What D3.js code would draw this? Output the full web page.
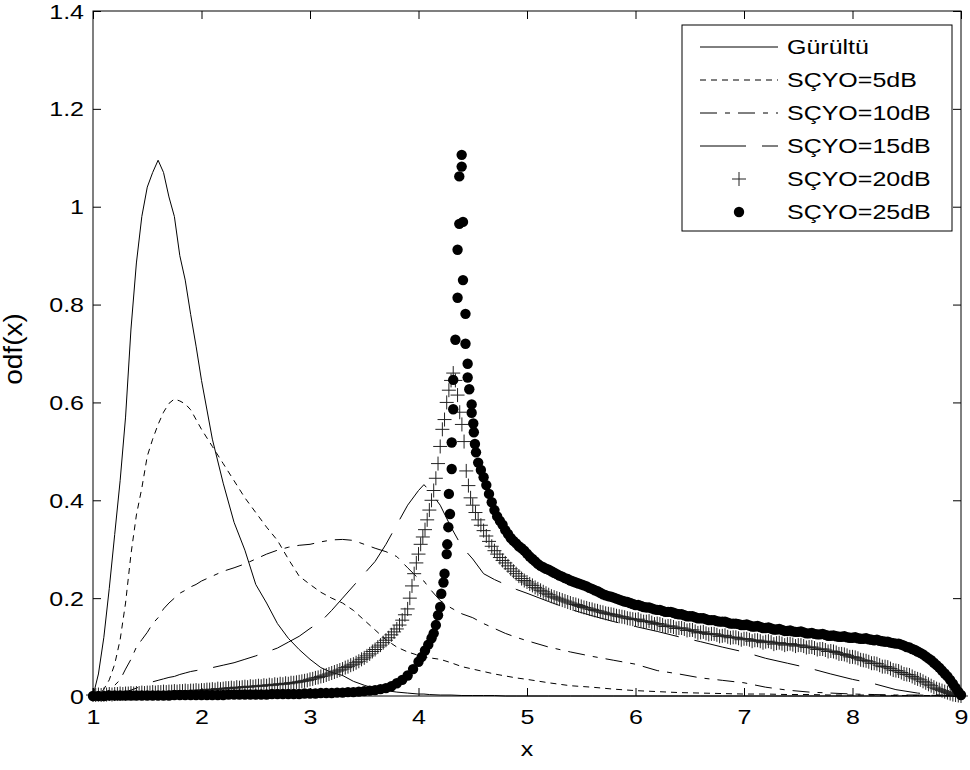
<!DOCTYPE html>
<html><head><meta charset="utf-8">
<script src="https://cdn.jsdelivr.net/npm/d3@7"></script>
<style>body{margin:0;background:#fff}text{font-family:"Liberation Sans",Arial,sans-serif;fill:#000}</style>
</head><body><svg id="c" width="970" height="770"></svg>
<script>
const xTicks=[1,2,3,4,5,6,7,8,9];
const yTicks=[0,0.2,0.4,0.6,0.8,1,1.2,1.4];
const yTickLabels=["0","0.2","0.4","0.6","0.8","1","1.2","1.4"];
const seriesNames=["Gürültü","SÇYO=5dB","SÇYO=10dB","SÇYO=15dB","SÇYO=20dB","SÇYO=25dB"];
const lineX=[1.0,1.05,1.1,1.15,1.2,1.25,1.3,1.35,1.4,1.45,1.5,1.55,1.6,1.65,1.7,1.75,1.8,1.85,1.9,1.95,2.0,
2.1,2.2,2.3,2.4,2.5,2.6,2.7,2.8,2.9,3.0,3.1,3.2,3.3,3.4,3.5,3.6,3.7,3.8,3.9,4.0,
4.05,4.1,4.2,4.3,4.4,4.5,4.6,4.7,4.8,4.9,5.0,
5.2,5.4,5.6,5.8,6.0,6.2,6.4,6.6,6.8,7.0,7.2,7.4,7.6,7.8,8.0,8.2,8.4,8.6,8.8,9.0];
const noiseY=[0,0.045,0.12,0.22,0.33,0.44,0.57,0.75,0.885,0.98,1.04,1.07,1.095,1.07,1.02,0.98,0.9,0.85,0.78,0.715,0.645,
0.525,0.435,0.355,0.298,0.228,0.19,0.148,0.118,0.095,0.075,0.058,0.048,0.042,0.03,0.022,0.015,0.011,0.008,0.006,0.004,
0.004,0.003,0.002,0.002,0.001,0.001,0.001,0.001,0,0,0,
0,0,0,0,0,0,0,0,0,0,0,0,0,0,0,0,0,0,0,0];
const snr5Y=[0,0.003,0.014,0.033,0.065,0.115,0.19,0.29,0.37,0.425,0.49,0.525,0.555,0.58,0.598,0.607,0.603,0.597,0.585,0.565,0.545,
0.51,0.475,0.44,0.405,0.375,0.345,0.318,0.28,0.245,0.228,0.212,0.2,0.19,0.175,0.155,0.135,0.115,0.1,0.09,0.083,
0.08,0.078,0.075,0.068,0.06,0.055,0.05,0.045,0.041,0.037,0.034,
0.027,0.021,0.018,0.014,0.011,0.009,0.007,0.006,0.005,0.004,0.004,0.003,0.003,0.002,0.002,0.002,0.001,0.001,0.001,0];
const snr10Y=[0,0.002,0.006,0.012,0.022,0.033,0.055,0.075,0.1,0.115,0.13,0.148,0.16,0.178,0.19,0.2,0.21,0.216,0.223,0.228,0.235,
0.245,0.255,0.262,0.27,0.28,0.29,0.298,0.304,0.308,0.31,0.315,0.319,0.32,0.318,0.31,0.302,0.295,0.285,0.262,0.24,
0.235,0.22,0.195,0.18,0.168,0.16,0.148,0.138,0.128,0.12,0.113,
0.1,0.09,0.081,0.073,0.065,0.052,0.045,0.037,0.032,0.027,0.018,0.012,0.008,0.006,0.004,0.003,0.002,0.002,0.001,0];
const snr15Y=[0,0.001,0.002,0.003,0.005,0.007,0.009,0.012,0.016,0.021,0.026,0.029,0.032,0.035,0.038,0.04,0.044,0.047,0.05,0.052,0.054,
0.058,0.063,0.068,0.075,0.082,0.09,0.098,0.11,0.122,0.138,0.152,0.175,0.2,0.225,0.25,0.275,0.31,0.35,0.39,0.42,
0.432,0.42,0.39,0.345,0.305,0.28,0.25,0.238,0.228,0.218,0.21,
0.193,0.177,0.164,0.152,0.142,0.132,0.121,0.111,0.1,0.09,0.077,0.067,0.057,0.045,0.034,0.025,0.013,0.006,0.002,0];
const snr20Points=[
[1.000,0.002],[1.025,0.002],[1.050,0.003],[1.075,0.002],[1.100,0.003],[1.125,0.003],[1.150,0.004],[1.175,0.003],
[1.200,0.004],[1.225,0.004],[1.250,0.005],[1.275,0.004],[1.300,0.005],[1.325,0.005],[1.350,0.006],[1.375,0.005],
[1.400,0.006],[1.425,0.006],[1.450,0.007],[1.475,0.006],[1.500,0.007],[1.525,0.007],[1.550,0.008],[1.575,0.007],
[1.600,0.008],[1.625,0.008],[1.650,0.009],[1.675,0.008],[1.700,0.009],[1.725,0.009],[1.750,0.010],[1.775,0.009],
[1.800,0.010],[1.825,0.010],[1.850,0.011],[1.875,0.010],[1.900,0.011],[1.925,0.011],[1.950,0.012],[1.975,0.011],
[2.000,0.012],[2.025,0.012],[2.050,0.013],[2.075,0.013],[2.100,0.014],[2.125,0.013],[2.150,0.015],[2.175,0.014],
[2.200,0.015],[2.225,0.016],[2.250,0.016],[2.275,0.017],[2.300,0.016],[2.325,0.018],[2.350,0.017],[2.375,0.018],
[2.400,0.019],[2.425,0.018],[2.450,0.020],[2.475,0.019],[2.500,0.020],[2.525,0.021],[2.550,0.020],[2.575,0.022],
[2.600,0.021],[2.625,0.023],[2.650,0.022],[2.675,0.024],[2.700,0.023],[2.725,0.025],[2.750,0.024],[2.775,0.026],
[2.800,0.025],[2.825,0.027],[2.850,0.027],[2.875,0.028],[2.900,0.029],[2.925,0.030],[2.950,0.031],[2.975,0.032],
[3.000,0.034],[3.025,0.035],[3.050,0.037],[3.075,0.038],[3.100,0.040],[3.125,0.041],[3.150,0.043],[3.175,0.045],
[3.200,0.047],[3.225,0.049],[3.250,0.051],[3.275,0.053],[3.300,0.055],[3.325,0.058],[3.350,0.060],[3.375,0.063],
[3.400,0.065],[3.425,0.068],[3.450,0.071],[3.475,0.075],[3.500,0.078],[3.525,0.082],[3.550,0.086],[3.575,0.091],
[3.600,0.095],[3.625,0.100],[3.650,0.104],[3.675,0.109],[3.700,0.114],[3.725,0.119],[3.750,0.125],[3.775,0.131],
[3.800,0.137],[3.825,0.145],[3.850,0.155],[3.875,0.166],[3.900,0.178],
[3.92,0.2],[3.94,0.225],[3.96,0.25],[3.98,0.272],[4.0,0.29],[4.02,0.31],[4.04,0.325],[4.06,0.34],[4.08,0.36],[4.1,0.38],
[4.12,0.4],[4.14,0.42],[4.16,0.445],[4.18,0.475],[4.2,0.51],[4.22,0.545],[4.24,0.565],[4.26,0.6],[4.28,0.625],[4.3,0.645],
[4.32,0.66],[4.34,0.645],[4.36,0.615],[4.38,0.58],[4.4,0.555],[4.42,0.52],[4.44,0.46],[4.46,0.43],[4.48,0.405],[4.5,0.39],
[4.525,0.375],[4.550,0.360],[4.575,0.349],[4.600,0.338],[4.625,0.327],[4.650,0.316],[4.675,0.306],[4.700,0.297],
[4.725,0.290],[4.750,0.283],[4.775,0.277],[4.800,0.272],[4.825,0.266],[4.850,0.260],[4.875,0.255],[4.900,0.250],
[4.925,0.245],[4.950,0.240],[4.975,0.236],[5.000,0.233],[5.025,0.229],[5.050,0.226],[5.075,0.222],[5.100,0.219],
[5.125,0.216],[5.150,0.213],[5.175,0.210],[5.200,0.207],[5.225,0.204],[5.250,0.202],[5.275,0.200],[5.300,0.198],
[5.325,0.196],[5.350,0.194],[5.375,0.192],[5.400,0.190],[5.425,0.188],[5.450,0.187],[5.475,0.185],[5.500,0.183],
[5.525,0.181],[5.550,0.180],[5.575,0.178],[5.600,0.177],[5.625,0.175],[5.650,0.174],[5.675,0.172],[5.700,0.171],
[5.725,0.169],[5.750,0.168],[5.775,0.167],[5.800,0.166],[5.825,0.164],[5.850,0.163],[5.875,0.162],[5.900,0.161],
[5.925,0.159],[5.950,0.158],[5.975,0.157],
[6.000,0.156],[6.025,0.157],[6.050,0.154],[6.075,0.152],[6.100,0.152],[6.125,0.153],[6.150,0.150],[6.175,0.147],
[6.200,0.148],[6.225,0.147],[6.250,0.145],[6.275,0.142],[6.300,0.143],[6.325,0.143],[6.350,0.141],[6.375,0.138],
[6.400,0.139],[6.425,0.139],[6.450,0.137],[6.475,0.134],[6.500,0.135],[6.525,0.135],[6.550,0.132],[6.575,0.129],
[6.600,0.130],[6.625,0.131],[6.650,0.128],[6.675,0.126],[6.700,0.127],[6.725,0.127],[6.750,0.125],[6.775,0.122],
[6.800,0.123],[6.825,0.124],[6.850,0.121],[6.875,0.119],[6.900,0.120],[6.925,0.120],[6.950,0.118],[6.975,0.115],
[7.000,0.117],[7.025,0.117],[7.050,0.115],[7.075,0.112],[7.100,0.114],[7.125,0.114],[7.150,0.112],[7.175,0.109],
[7.200,0.111],[7.225,0.112],[7.250,0.110],[7.275,0.106],[7.300,0.108],[7.325,0.109],[7.350,0.107],[7.375,0.104],
[7.400,0.106],[7.425,0.107],[7.450,0.105],[7.475,0.102],[7.500,0.104],[7.525,0.104],[7.550,0.102],[7.575,0.099],
[7.600,0.100],[7.625,0.100],[7.650,0.098],[7.675,0.095],[7.700,0.096],[7.725,0.096],[7.750,0.094],[7.775,0.091],
[7.800,0.092],[7.825,0.091],[7.850,0.089],[7.875,0.086],[7.900,0.086],[7.925,0.085],[7.950,0.083],[7.975,0.080],
[8.000,0.080],[8.025,0.079],[8.050,0.077],[8.075,0.074],[8.100,0.073],[8.125,0.072],[8.150,0.070],[8.175,0.067],
[8.200,0.067],[8.225,0.066],[8.250,0.063],[8.275,0.060],[8.300,0.060],[8.325,0.059],[8.350,0.056],[8.375,0.053],
[8.400,0.052],[8.425,0.051],[8.450,0.048],[8.475,0.045],[8.500,0.044],[8.525,0.043],[8.550,0.040],[8.575,0.037],
[8.600,0.035],[8.625,0.033],[8.650,0.030],[8.675,0.027],[8.700,0.024],[8.725,0.021],[8.750,0.018],[8.775,0.015],
[8.800,0.013],[8.825,0.011],[8.850,0.009],[8.875,0.007],[8.900,0.005],[8.925,0.003],[8.950,0.002],[8.975,0.001],[9.000,0]];
const snr25Points=[
[1.0,0],[1.05,0],[1.1,0],[1.15,0.001],[1.2,0.001],[1.25,0.001],[1.3,0.001],[1.35,0.001],[1.4,0.001],[1.45,0.001],
[1.5,0.001],[1.55,0.001],[1.6,0.001],[1.65,0.001],[1.7,0.001],[1.75,0.002],[1.8,0.002],[1.85,0.002],[1.9,0.002],[1.95,0.002],
[2.0,0.002],[2.05,0.002],[2.1,0.002],[2.15,0.002],[2.2,0.002],[2.25,0.003],[2.3,0.003],[2.35,0.003],[2.4,0.003],[2.45,0.003],
[2.5,0.003],[2.55,0.003],[2.6,0.003],[2.65,0.004],[2.7,0.004],[2.75,0.004],[2.8,0.004],[2.85,0.004],[2.9,0.004],[2.95,0.005],
[3.0,0.005],[3.05,0.005],[3.1,0.006],[3.15,0.006],[3.2,0.006],[3.25,0.007],[3.3,0.007],[3.35,0.008],[3.4,0.008],[3.45,0.009],
[3.5,0.01],[3.55,0.011],[3.6,0.012],[3.65,0.014],[3.7,0.016],[3.75,0.02],[3.8,0.026],[3.85,0.033],[3.9,0.042],[3.95,0.055],
[4.0,0.07],[4.03,0.08],[4.06,0.093],[4.09,0.105],[4.12,0.118],[4.14,0.128],[4.16,0.145],[4.18,0.165],[4.2,0.182],[4.21,0.209],
[4.23,0.232],[4.24,0.25],[4.26,0.29],[4.265,0.31],[4.275,0.345],[4.29,0.372],[4.28,0.413],[4.306,0.464],[4.306,0.518],[4.32,0.586],
[4.32,0.646],[4.34,0.728],[4.36,0.814],[4.36,0.912],[4.376,0.965],[4.41,0.969],[4.376,1.062],[4.398,1.082],[4.398,1.106],[4.41,0.85],
[4.433,0.781],[4.433,0.72],[4.453,0.679],[4.453,0.651],[4.468,0.627],[4.49,0.596],[4.49,0.579],[4.505,0.557],[4.51,0.539],[4.52,0.515],
[4.53,0.498],
[4.550,0.477],[4.575,0.462],[4.600,0.447],[4.625,0.431],[4.650,0.413],[4.675,0.396],[4.700,0.380],[4.725,0.367],
[4.750,0.358],[4.775,0.350],[4.800,0.339],[4.825,0.331],[4.850,0.323],[4.875,0.317],[4.900,0.312],[4.925,0.306],
[4.950,0.302],[4.975,0.297],[5.000,0.291],[5.025,0.285],[5.050,0.280],[5.075,0.275],[5.100,0.270],[5.125,0.266],
[5.150,0.263],[5.175,0.260],[5.200,0.258],[5.225,0.255],[5.250,0.252],[5.275,0.249],[5.300,0.246],[5.325,0.244],
[5.350,0.241],[5.375,0.239],[5.400,0.236],[5.425,0.234],[5.450,0.232],[5.475,0.230],[5.500,0.228],[5.525,0.226],
[5.550,0.224],[5.575,0.221],[5.600,0.219],[5.625,0.216],[5.650,0.214],[5.675,0.211],[5.700,0.208],[5.725,0.206],
[5.750,0.204],[5.775,0.203],[5.800,0.201],[5.825,0.199],[5.850,0.197],[5.875,0.195],[5.900,0.193],[5.925,0.192],
[5.950,0.190],[5.975,0.188],
[6.000,0.186],[6.025,0.186],[6.050,0.184],[6.075,0.182],[6.100,0.181],[6.125,0.181],[6.150,0.179],[6.175,0.177],
[6.200,0.176],[6.225,0.176],[6.250,0.174],[6.275,0.172],[6.300,0.172],[6.325,0.172],[6.350,0.170],[6.375,0.168],
[6.400,0.167],[6.425,0.167],[6.450,0.165],[6.475,0.163],[6.500,0.163],[6.525,0.163],[6.550,0.161],[6.575,0.159],
[6.600,0.159],[6.625,0.159],[6.650,0.157],[6.675,0.155],[6.700,0.155],[6.725,0.155],[6.750,0.153],[6.775,0.152],
[6.800,0.152],[6.825,0.152],[6.850,0.150],[6.875,0.148],[6.900,0.148],[6.925,0.148],[6.950,0.147],[6.975,0.145],
[7.000,0.145],[7.025,0.146],[7.050,0.144],[7.075,0.142],[7.100,0.142],[7.125,0.143],[7.150,0.141],[7.175,0.139],
[7.200,0.139],[7.225,0.140],[7.250,0.138],[7.275,0.136],[7.300,0.136],[7.325,0.137],[7.350,0.135],[7.375,0.133],
[7.400,0.133],[7.425,0.134],[7.450,0.132],[7.475,0.131],[7.500,0.131],[7.525,0.132],[7.550,0.130],[7.575,0.128],
[7.600,0.128],[7.625,0.129],[7.650,0.127],[7.675,0.126],[7.700,0.126],[7.725,0.127],[7.750,0.125],[7.775,0.123],
[7.800,0.123],[7.825,0.124],[7.850,0.122],[7.875,0.121],[7.900,0.121],[7.925,0.122],[7.950,0.120],[7.975,0.119],
[8.000,0.119],[8.025,0.120],[8.050,0.118],[8.075,0.117],[8.100,0.117],[8.125,0.118],[8.150,0.116],[8.175,0.115],
[8.200,0.114],[8.225,0.115],[8.250,0.113],[8.275,0.112],[8.300,0.111],[8.325,0.111],[8.350,0.109],[8.375,0.108],
[8.400,0.107],[8.425,0.107],[8.450,0.105],[8.475,0.103],[8.500,0.100],[8.525,0.099],[8.550,0.096],[8.575,0.094],
[8.600,0.091],[8.625,0.088],[8.650,0.085],[8.675,0.081],[8.700,0.077],[8.725,0.073],[8.750,0.068],[8.775,0.063],
[8.800,0.058],[8.825,0.052],[8.850,0.046],[8.875,0.040],[8.900,0.033],[8.925,0.025],[8.950,0.017],[8.975,0.009],[9.000,0.002]];

const svg=d3.select("#c");
const FS=20, SX=1.25;
const x=d3.scaleLinear().domain([1,9]).range([93,961]);
const y=d3.scaleLinear().domain([0,1.4]).range([696,11]);

svg.append("rect").attr("width",970).attr("height",770).attr("fill","#fff");

const dashes=[null,"6,5","17,8,5,8","46,16"];
const lineYs=[noiseY,snr5Y,snr10Y,snr15Y];
const lg=d3.line().x(d=>x(d[0])).y(d=>y(d[1]));
lineYs.forEach((ys,k)=>{
  const pts=lineX.map((v,i)=>[v,ys[i]]);
  svg.append("path").attr("d",lg(pts)).attr("fill","none").attr("stroke","#000")
    .attr("stroke-width",1).attr("stroke-dasharray",dashes[k]);
});
const P=7;
svg.append("g").selectAll("path").data(snr20Points).join("path")
  .attr("d",d=>{const cx=x(d[0]),cy=y(d[1]);return `M${cx-P},${cy}H${cx+P}M${cx},${cy-P}V${cy+P}`;})
  .attr("stroke","#222").attr("stroke-width",1).attr("fill","none");
svg.append("g").selectAll("circle").data(snr25Points).join("circle")
  .attr("cx",d=>x(d[0])).attr("cy",d=>y(d[1])).attr("r",5.2).attr("fill","#000");

svg.append("rect").attr("x",93).attr("y",11).attr("width",868).attr("height",685)
  .attr("fill","none").attr("stroke","#000").attr("stroke-width",1);
const ax=(g,a)=>{g.call(a);g.select(".domain").remove();g.selectAll(".tick line").attr("stroke","#000");};
const gb=svg.append("g").attr("transform","translate(0,696)");
ax(gb,d3.axisBottom(x).tickValues(xTicks).tickSize(-8).tickFormat(d3.format("d")));
gb.selectAll(".tick text").attr("font-size",FS).attr("font-family",null).attr("fill","#000")
  .attr("y",null).attr("dy",null).attr("transform",`translate(0,28) scale(${SX},1)`);
const gt=svg.append("g").attr("transform","translate(0,11)");
ax(gt,d3.axisTop(x).tickValues(xTicks).tickSize(-8).tickFormat(""));
const gl=svg.append("g").attr("transform","translate(93,0)");
ax(gl,d3.axisLeft(y).tickValues(yTicks).tickSize(-8).tickFormat((d,i)=>yTickLabels[i]));
gl.selectAll(".tick text").attr("font-size",FS).attr("font-family",null).attr("fill","#000")
  .attr("x",null).attr("dy","0.35em").attr("transform",`translate(-9,0) scale(${SX},1)`);
const gr=svg.append("g").attr("transform","translate(961,0)");
ax(gr,d3.axisRight(y).tickValues(yTicks).tickSize(-8).tickFormat(""));

svg.append("text").attr("transform",`translate(527,756) scale(${SX},1)`).attr("text-anchor","middle")
  .attr("font-size",FS).text("x");
svg.append("text").attr("transform","translate(22,349) rotate(-90) scale(1.4,1.25)").attr("text-anchor","middle")
  .attr("font-size",FS).text("odf(x)");

const LX=682,LY=25,LW=270,LH=206;
const lgd=svg.append("g");
lgd.append("rect").attr("x",LX).attr("y",LY).attr("width",LW).attr("height",LH)
  .attr("fill","#fff").attr("stroke","#000").attr("stroke-width",1);
const legY=d3.scalePoint().domain(seriesNames).range([47,212]);
seriesNames.forEach((n,i)=>{
  const cy=legY(n);
  if(i<4){
    lgd.append("line").attr("x1",700).attr("x2",778).attr("y1",cy).attr("y2",cy)
      .attr("stroke","#000").attr("stroke-width",1).attr("stroke-dasharray",dashes[i]);
  } else if(i===4){
    lgd.append("path").attr("d",`M${739-P},${cy}H${739+P}M739,${cy-P}V${cy+P}`).attr("stroke","#222").attr("fill","none");
  } else {
    lgd.append("circle").attr("cx",739).attr("cy",cy).attr("r",5.2).attr("fill","#000");
  }
  lgd.append("text").attr("transform",`translate(787,${cy}) scale(${SX},1)`).attr("dy","0.35em")
    .attr("font-size",FS).text(n);
});
</script></body></html>
